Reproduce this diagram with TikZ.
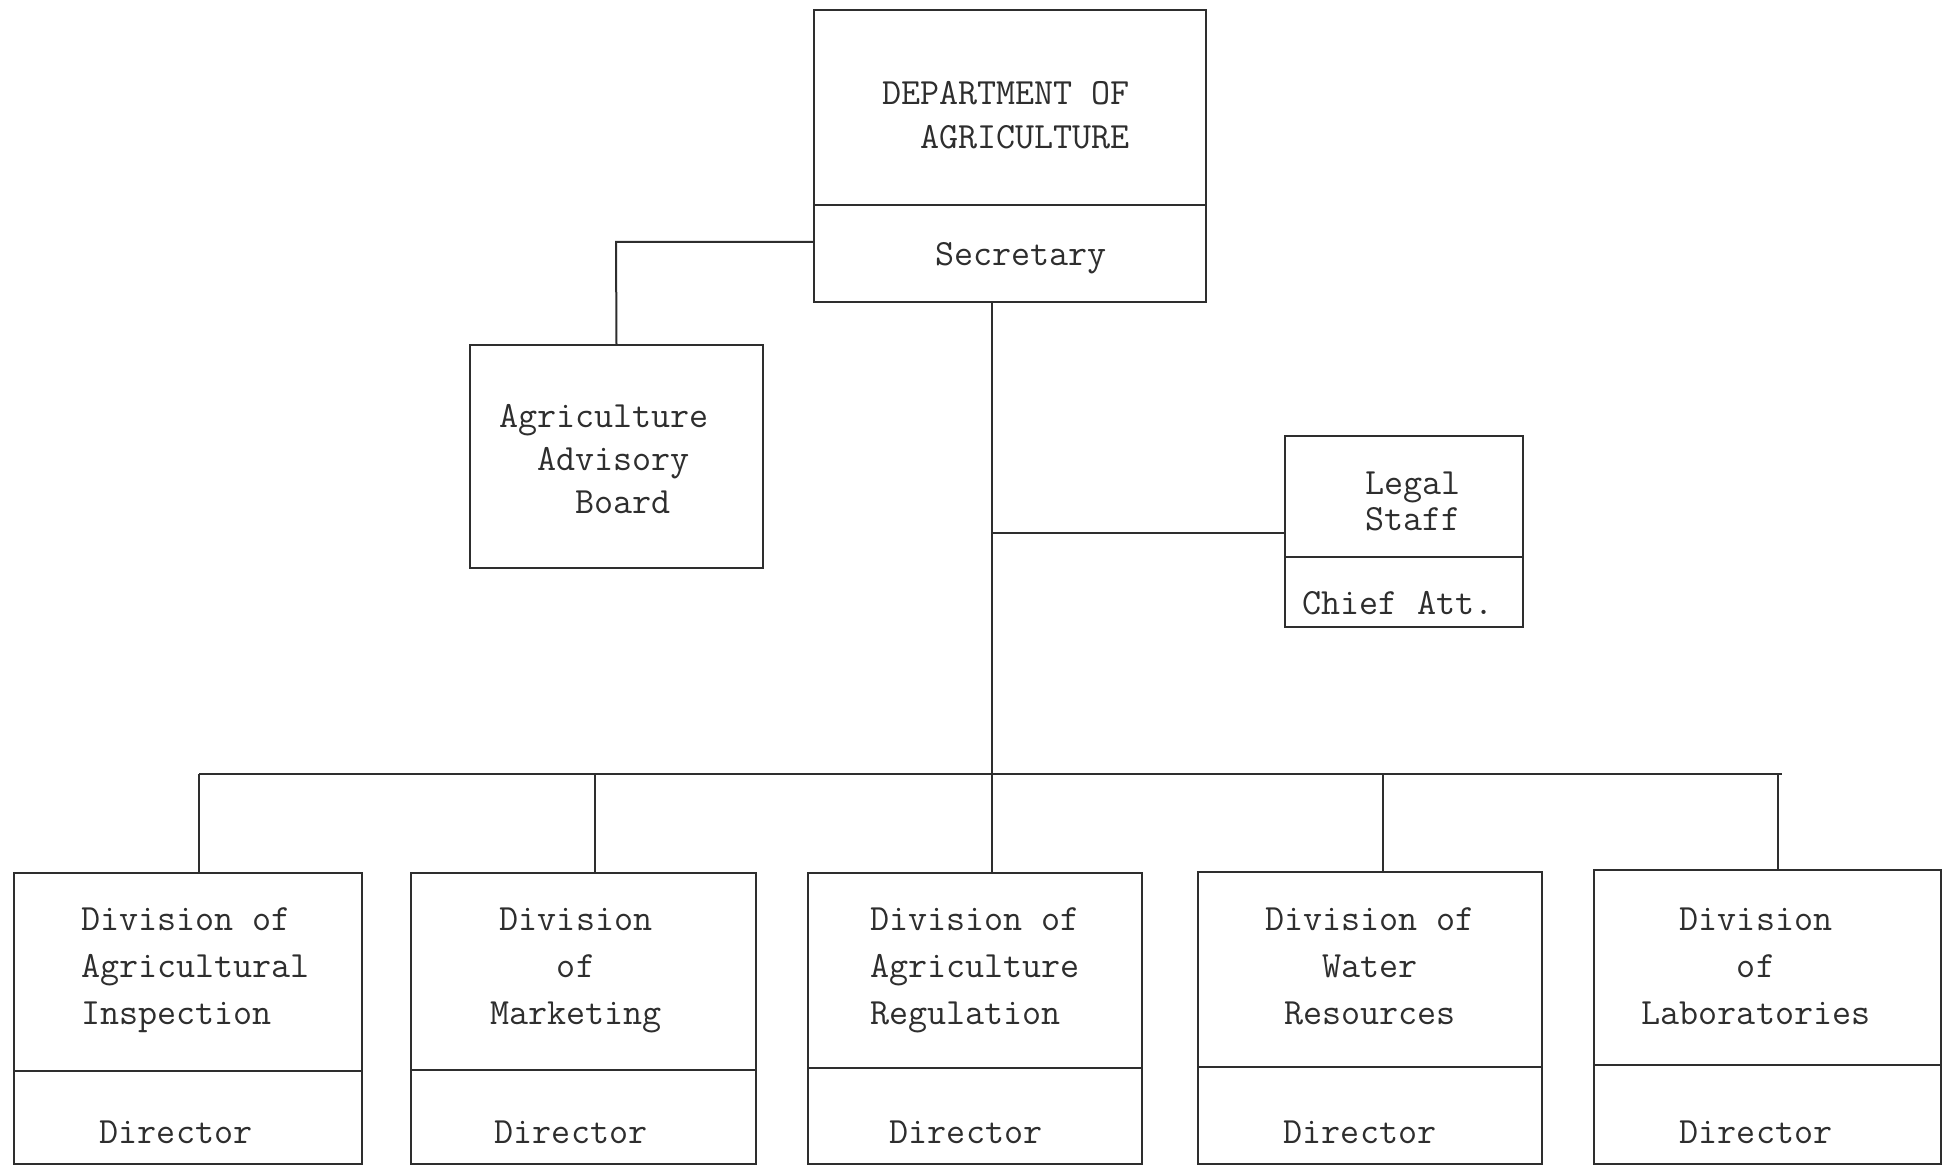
\documentclass[tikz,border=0pt]{standalone}
\usepackage{fontspec}
\setmonofont{Latin Modern Mono}
\definecolor{ink}{HTML}{2E2E2E}
\begin{document}
\begin{tikzpicture}[x=1pt,y=-1pt,
  box/.style={draw=ink,line width=2.2pt,inner sep=0pt,outer sep=0pt,anchor=north west},
  conn/.style={draw=ink,line width=2pt},
  divl/.style={draw=ink,line width=2.2pt},
  lbl/.style={text=ink,inner sep=0pt,font=\ttfamily\fontsize{37}{47}\selectfont}]
\useasboundingbox[fill=white] (0,0) rectangle (1947,1166);
% top box
\node[box,minimum width=392pt,minimum height=292pt] (dept) at (814,10) {};
\draw[divl] (814,205) -- (1206,205);
\node[lbl,align=right,anchor=east,font=\ttfamily\fontsize{37}{44}\selectfont] (deptt) at (1130,115) {DEPARTMENT OF\\AGRICULTURE};
\node[lbl] (sec) at (1021,258) {Secretary};
% advisory board
\node[box,minimum width=293pt,minimum height=223pt] (adv) at (470,345) {};
\node[lbl,align=left,anchor=west,font=\ttfamily\fontsize{37}{43}\selectfont] (advt) at (499,459) {Agriculture\\\ \ Advisory\\\ \ \ \ Board};
% legal staff
\node[box,minimum width=238pt,minimum height=191pt] (legal) at (1285,436) {};
\draw[divl] (1285,557) -- (1523,557);
\node[lbl,align=center,font=\ttfamily\fontsize{37}{36}\selectfont] (legalt) at (1413,501) {Legal\\Staff};
\node[lbl] (chief) at (1398,603) {Chief Att.};
% bottom boxes
\node[box,minimum width=348pt,minimum height=291pt] (d1) at (14,873) {};
\node[box,minimum width=345pt,minimum height=291pt] (d2) at (411,873) {};
\node[box,minimum width=334pt,minimum height=291pt] (d3) at (808,873) {};
\node[box,minimum width=344pt,minimum height=292pt] (d4) at (1198,872) {};
\node[box,minimum width=347pt,minimum height=294pt] (d5) at (1594,870) {};
\draw[divl] (14,1071) -- (362,1071);
\draw[divl] (411,1070) -- (756,1070);
\draw[divl] (808,1068) -- (1142,1068);
\draw[divl] (1198,1067) -- (1542,1067);
\draw[divl] (1594,1065) -- (1941,1065);
\node[lbl,align=left,anchor=west] (t1) at (81,970) {Division of\\Agricultural\\Inspection};
\node[lbl,align=center] (t2) at (576,970) {Division\\of\\Marketing};
\node[lbl,align=left,anchor=west] (t3) at (870,970) {Division of\\Agriculture\\Regulation};
\node[lbl,align=center] (t4) at (1370,966) {Division of\\Water\\Resources};
\node[lbl,align=center] (t5) at (1756,966) {Division\\of\\Laboratories};
\node[lbl] (r1) at (176,1132) {Director};
\node[lbl] (r2) at (571,1132) {Director};
\node[lbl] (r3) at (966,1132) {Director};
\node[lbl] (r4) at (1360,1132) {Director};
\node[lbl] (r5) at (1756,1132) {Director};
% connectors
\coordinate (advj) at (616,242);
\coordinate (legj) at (992,533);
\coordinate (busl) at (199,774);
\coordinate (busr) at (1782,774);
\draw[conn] (dept.west |- advj) -- (advj) -- (adv.north);
\draw[conn] (992,302) -- (992,873);
\draw[conn] (legj) -- (legal.west |- legj);
\draw[conn] (busl) -- (busr);
\draw[conn] (busl) -- (199,873);
\draw[conn] (595,774) -- (595,873);
\draw[conn] (1383,774) -- (1383,872);
\draw[conn] (1778,774) -- (1778,870);
\end{tikzpicture}
\end{document}
